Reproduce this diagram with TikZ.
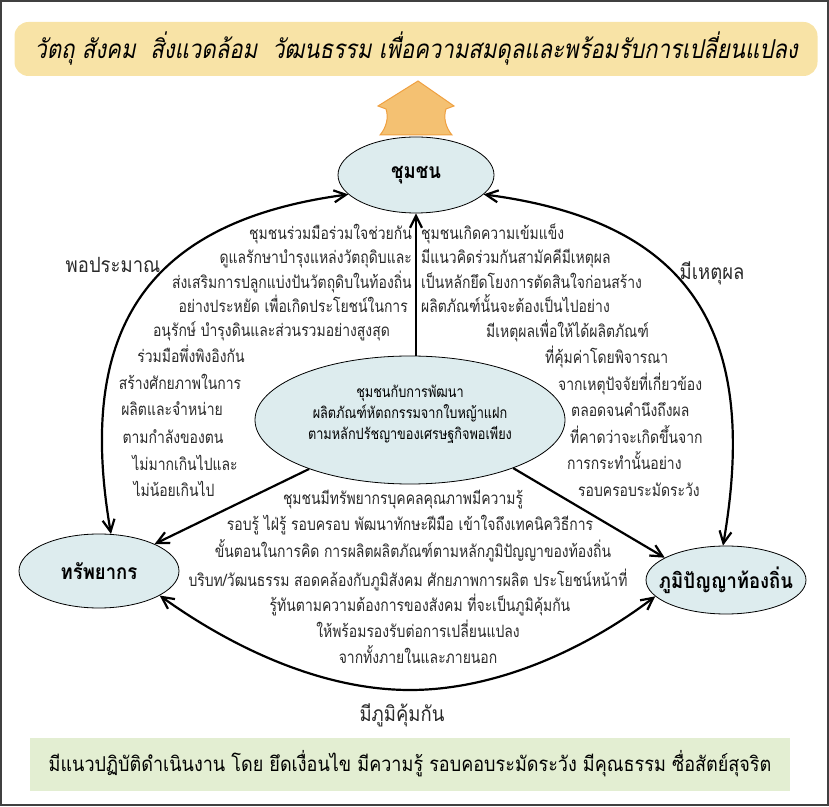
\documentclass[tikz,border=0pt]{standalone}
\usepackage{fontspec}
\usetikzlibrary{arrows.meta,shapes.geometric}
\newfontfamily\thfont[Script=Thai]{Loma}
\newfontfamily\thnarrow[Script=Thai,FakeStretch=0.82]{Loma}
\newfontfamily\thmid[Script=Thai,FakeStretch=0.88]{Loma}
\newfontfamily\thslant[Script=Thai,FakeSlant=0.2,FakeStretch=0.85]{Loma}
\definecolor{ellfill}{HTML}{DDECEE}
\definecolor{topfill}{HTML}{F8E3A6}
\definecolor{botfill}{HTML}{E3EED2}
\definecolor{arrfill}{HTML}{F4C172}
\definecolor{arrline}{HTML}{EFA040}
\definecolor{txt}{HTML}{2A2A2A}
\begin{document}
\begin{tikzpicture}[x=1pt,y=1pt,
  body/.style={font=\thnarrow\fontsize{17}{19}\selectfont, text=txt, inner sep=0pt, text height=10pt, text depth=4pt},
  ctr/.style={font=\thnarrow\fontsize{15.5}{18}\selectfont, text=black, inner sep=0pt, align=center},
  side/.style={font=\thmid\fontsize{21}{24}\selectfont, text=txt, inner sep=0pt},
  ell/.style={ellipse, draw=black, line width=0.8pt, fill=ellfill, inner sep=0pt},
  ttl/.style={font=\thmid\bfseries\fontsize{21}{24}\selectfont, text=black, inner sep=0pt},
  sgl/.style={line width=2.2pt, -{Straight Barb[length=12pt,width=12pt]}},
  dbl/.style={line width=2.2pt, {Straight Barb[length=12pt,width=12pt]}-{Straight Barb[length=12pt,width=12pt]}}
]
\useasboundingbox (0,0) rectangle (829,806);
\draw[black!75, line width=1.2pt] (1,1) rectangle (828,805);

% top banner
\node[fill=topfill, rounded corners=14pt, minimum width=803pt, minimum height=54pt, inner sep=0pt,
      font=\thslant\fontsize{26}{28}\selectfont] (title) at (416,757)
  {วัตถุ สังคม\ \ สิ่งแวดล้อม\ \ วัฒนธรรม เพื่อความสมดุลและพร้อมรับการเปลี่ยนแปลง};

% orange arrow
\draw[fill=arrfill, draw=arrline, line width=1pt]
  (418,725) -- (454,700) -- (446,697) .. controls (443,688) and (446,678) .. (452,671)
  -- (380,671) .. controls (386,678) and (389,688) .. (386,697) -- (378,700) -- cycle;

% ellipses
\node[ell, minimum width=156pt, minimum height=76pt] (com) at (416,631) {};
\node[ttl] (comtxt) at (com) {ชุมชน};
\node[ell, minimum width=310pt, minimum height=128pt] (cen) at (410,386) {};
\node[ctr] (centxt) at (410,392) {ชุมชนกับการพัฒนา\\[3pt]ผลิตภัณฑ์หัตถกรรมจากใบหญ้าแฝก\\[3pt]ตามหลักปรัชญาของเศรษฐกิจพอเพียง};
\node[ell, minimum width=160pt, minimum height=74pt] (res) at (99,235) {};
\node[ttl] (restxt) at (res) {ทรัพยากร};
\node[ell, minimum width=160pt, minimum height=68pt] (loc) at (726,226) {};
\node[ttl] (loctxt) at (loc) {ภูมิปัญญาท้องถิ่น};

% connectors
\coordinate (bot) at (410,116);
\draw[dbl] (res.72) .. controls (75,480) and (150,585) .. (com.196);
\draw[dbl] (com.344) .. controls (686,585) and (761,480) .. (loc.95);
\draw[dbl] (res.338) .. controls (230,160) and (320,116) .. (bot) .. controls (500,116) and (590,160) .. (loc.193);
\draw[sgl] (cen.north -| com.south) -- (com.south);
\draw[sgl] (cen) -- (res);
\draw[sgl] (cen.-25) -- (loc.160);

% side labels
\node[side] (lblL) at (113,541) {พอประมาณ};
\node[side] (lblR) at (712,533) {มีเหตุผล};
\node[side] (lblB) at (402,91) {มีภูมิคุ้มกัน};

% left block
\node[body, anchor=east] (l1) at (412,569) {ชุมชนร่วมมือร่วมใจช่วยกัน};
\node[body, anchor=east] (l2) at (412,545) {ดูแลรักษาบำรุงแหล่งวัตถุดิบและ};
\node[body, anchor=east] (l3) at (412,520) {ส่งเสริมการปลูกแบ่งปันวัตถุดิบในท้องถิ่น};
\node[body, anchor=east] (l4) at (408,496) {อย่างประหยัด เพื่อเกิดประโยชน์ในการ};
\node[body, anchor=east] (l5) at (390,472) {อนุรักษ์ บำรุงดินและส่วนรวมอย่างสูงสุด};
\node[body] (l6) at (191,446) {ร่วมมือพึ่งพิงอิงกัน};
\node[body] (l7) at (180,419) {สร้างศักยภาพในการ};
\node[body] (l8) at (172,393) {ผลิตและจำหน่าย};
\node[body] (l9) at (173,365) {ตามกำลังของตน};
\node[body] (l10) at (185,338) {ไม่มากเกินไปและ};
\node[body] (l11) at (174,312) {ไม่น้อยเกินไป};

% right block
\node[body, anchor=west] (r1) at (421,569) {ชุมชนเกิดความเข้มแข็ง};
\node[body, anchor=west] (r2) at (421,545) {มีแนวคิดร่วมกันสามัคคีมีเหตุผล};
\node[body, anchor=west] (r3) at (421,520) {เป็นหลักยึดโยงการตัดสินใจก่อนสร้าง};
\node[body, anchor=west] (r4) at (421,496) {ผลิตภัณฑ์นั้นจะต้องเป็นไปอย่าง};
\node[body, anchor=west] (r5) at (486,471) {มีเหตุผลเพื่อให้ได้ผลิตภัณฑ์};
\node[body, anchor=west] (r6) at (545,445) {ที่คุ้มค่าโดยพิจารณา};
\node[body, anchor=west] (r7) at (558,418) {จากเหตุปัจจัยที่เกี่ยวข้อง};
\node[body, anchor=west] (r8) at (571,392) {ตลอดจนคำนึงถึงผล};
\node[body, anchor=west] (r9) at (570,365) {ที่คาดว่าจะเกิดขึ้นจาก};
\node[body, anchor=west] (r10) at (567,339) {การกระทำนั้นอย่าง};
\node[body, anchor=west] (r11) at (578,312) {รอบครอบระมัดระวัง};

% bottom block
\node[body] (b1) at (403,304) {ชุมชนมีทรัพยากรบุคคลคุณภาพมีความรู้};
\node[body] (b2) at (410,278) {รอบรู้ ไฝ่รู้ รอบครอบ พัฒนาทักษะฝีมือ เข้าใจถึงเทคนิควิธีการ};
\node[body] (b3) at (413,251) {ขั้นตอนในการคิด การผลิตผลิตภัณฑ์ตามหลักภูมิปัญญาของท้องถิ่น};
\node[body] (b4) at (408,223) {บริบท/วัฒนธรรม สอดคล้องกับภูมิสังคม ศักยภาพการผลิต ประโยชน์หน้าที่};
\node[body] (b5) at (420,198) {รู้ทันตามความต้องการของสังคม ที่จะเป็นภูมิคุ้มกัน};
\node[body] (b6) at (418,172) {ให้พร้อมรองรับต่อการเปลี่ยนแปลง};
\node[body] (b7) at (418,146) {จากทั้งภายในและภายนอก};

% bottom banner
\node[fill=botfill, minimum width=760pt, minimum height=53pt, inner sep=0pt,
      font=\thmid\fontsize{20.5}{24}\selectfont, text=black] (foot) at (410,42)
  {มีแนวปฏิบัติดำเนินงาน โดย ยึดเงื่อนไข มีความรู้ รอบคอบระมัดระวัง มีคุณธรรม ซื่อสัตย์สุจริต};
\end{tikzpicture}
\end{document}
